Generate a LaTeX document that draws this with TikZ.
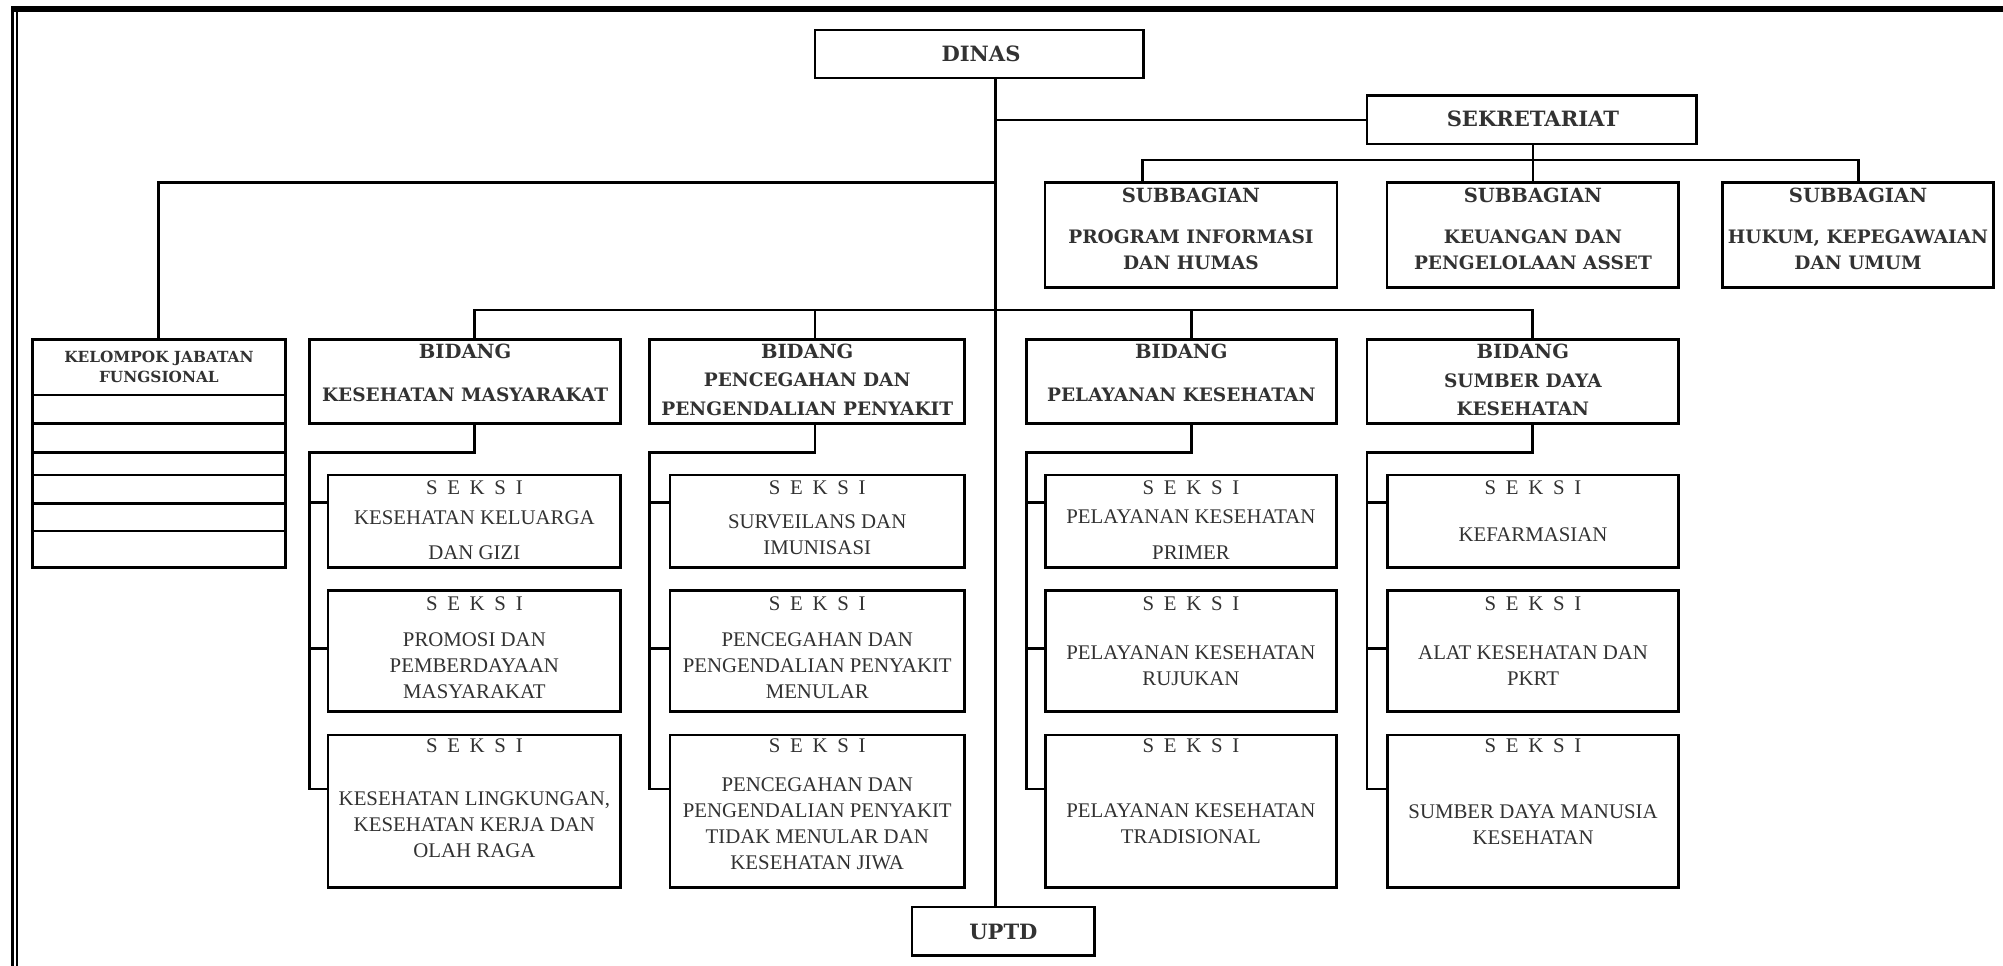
\documentclass[tikz,border=0pt]{standalone}
\usepackage{fontspec}
\setmainfont{Liberation Serif}
\newfontfamily\hdrfont{DejaVu Serif}
\definecolor{txt}{RGB}{50,50,50}
\tikzset{
 box/.style={draw=black, line width=2.1pt, inner sep=0pt, outer sep=0pt},
 conn/.style={draw=black, line width=2.1pt},
 hd/.style={text=txt, inner sep=0pt, align=center, font=\hdrfont\bfseries\fontsize{14.5}{22.2}\selectfont},
 bighd/.style={hd, font=\hdrfont\bfseries\fontsize{16.5}{20}\selectfont},
 titlehd/.style={hd, font=\hdrfont\bfseries\fontsize{15.3}{20}\selectfont},
 subhd/.style={hd, font=\hdrfont\bfseries\fontsize{14.5}{20.3}\selectfont},
 kl/.style={hd, font=\hdrfont\bfseries\fontsize{12}{16.2}\selectfont},
 sk/.style={text=txt, inner sep=0pt, align=center, font=\fontsize{16.3}{20.3}\selectfont},
}
\newcommand\mkbox[5]{\node[box, minimum width={#4-#2}, minimum height={#5-#3}] (#1) at ({(#2+#4)/2},{(#3+#5)/2}) {};}
\begin{document}
\begin{tikzpicture}[x=1pt,y=-1pt]
\useasboundingbox (0,0) rectangle (1568,756);
% frame
\fill[black] (8.7,4.7) rectangle (1568,9.4);
\fill[black] (8.7,4.7) rectangle (10.8,756);
\fill[black] (12.6,9.4) rectangle (14,756);
% boxes
\mkbox{dinas}{638}{23.5}{895}{61}
\mkbox{sek}{1070}{75}{1328}{112.7}
\mkbox{sub1}{818}{142.7}{1046.7}{225}
\mkbox{sub2}{1085.7}{142.7}{1314.2}{225}
\mkbox{sub3}{1348.6}{142.7}{1560.4}{225}
\mkbox{kel}{25.4}{265.6}{223.4}{444.4}
\mkbox{bid1}{242.2}{265.6}{486}{331.4}
\mkbox{bid2}{508.7}{265.6}{755.1}{331.4}
\mkbox{bid3}{803.3}{265.6}{1046.2}{331.4}
\mkbox{bid4}{1070.2}{265.6}{1314}{331.4}
\mkbox{uptd}{714}{710}{857}{748}
\foreach \c/\xa/\xb in {1/256.7/486, 2/524.4/755.1, 3/818.4/1046.2, 4/1086.2/1314}
 \foreach \r/\ya/\yb/\yt in {1/371.9/444.4/381.8, 2/462.4/557.1/472.8, 3/575.4/694.9/584}
 {\mkbox{s\c\r}{\xa}{\ya}{\xb}{\yb}
  \node[sk] (s\c\r t) at ({(\xa+\xb)/2},\yt) {\spaceskip=7.6pt S E K S I};}
% kelompok rows
\foreach \y in {309.2,331.4,354.1,371.9,394,415.7}
 {\coordinate (kr) at (0,\y); \draw[conn] (kel.west |- kr) -- (kel.east |- kr);}
% coordinates
\coordinate (tk) at (779.5,0);
\coordinate (sekbar) at (0,125.3);
\coordinate (sd1) at (894.3,0);
\coordinate (sd2) at (1200,0);
\coordinate (sd3) at (1454.8,0);
\coordinate (kj) at (0,142.7);
\coordinate (kx) at (124.2,0);
\coordinate (bb) at (0,242.7);
\coordinate (dr1) at (371.3,0);
\coordinate (dr2) at (638,0);
\coordinate (dr3) at (932.6,0);
\coordinate (dr4) at (1199.7,0);
\coordinate (bky) at (0,354.1);
\coordinate (st1) at (0,393.5);
\coordinate (st2) at (0,507.5);
\coordinate (st3) at (0,617.7);
% connectors
\draw[conn] (tk |- dinas.south) -- (tk |- uptd.north);
\draw[conn] (tk |- sek.west) -- (sek.west);
\draw[conn] (sd1 |- sub1.north) -- (sd1 |- sekbar) -- (sd3 |- sekbar) -- (sd3 |- sub3.north);
\draw[conn] (sd2 |- sek.south) -- (sd2 |- sub2.north);
\draw[conn] (tk |- kj) -| (kx |- kel.north);
\draw[conn] (dr1 |- bid1.north) -- (dr1 |- bb) -- (dr4 |- bb) -- (dr4 |- bid4.north);
\draw[conn] (dr2 |- bb) -- (dr2 |- bid2.north);
\draw[conn] (dr3 |- bb) -- (dr3 |- bid3.north);
\foreach \i in {1,2,3,4}{
 \draw[conn] (dr\i |- bid\i.south) -- (dr\i |- bky) -- (bid\i.west |- bky) -- (bid\i.west |- st3) -- (s\i3.west |- st3);
 \draw[conn] (bid\i.west |- st1) -- (s\i1.west |- st1);
 \draw[conn] (bid\i.west |- st2) -- (s\i2.west |- st2);
}
% texts
\node[bighd] (dinast) at (768,42.3) {DINAS};
\node[bighd] (sekt) at (1200,93.2) {SEKRETARIAT};
\node[titlehd] (sub1t) at (932.3,153) {SUBBAGIAN};
\node[titlehd] (sub2t) at (1200,153) {SUBBAGIAN};
\node[titlehd] (sub3t) at (1454.5,153) {SUBBAGIAN};
\node[subhd] (sub1b) at (932.3,195.3) {PROGRAM INFORMASI\\DAN HUMAS};
\node[subhd] (sub2b) at (1200,195.5) {KEUANGAN DAN\\PENGELOLAAN ASSET};
\node[subhd] (sub3b) at (1454.5,195.5) {HUKUM, KEPEGAWAIAN\\DAN UMUM};
\node[kl] (kelt) at (124.4,287.3) {KELOMPOK JABATAN\\FUNGSIONAL};
\node[titlehd] (bid1t) at (364.1,275.3) {BIDANG};
\node[titlehd] (bid2t) at (631.9,275.3) {BIDANG};
\node[titlehd] (bid3t) at (924.75,275.3) {BIDANG};
\node[titlehd] (bid4t) at (1192.1,275.3) {BIDANG};
\node[hd] (bid1b) at (364.1,309.2) {KESEHATAN MASYARAKAT};
\node[hd] (bid2b) at (631.9,308.6) {PENCEGAHAN DAN\\PENGENDALIAN PENYAKIT};
\node[hd] (bid3b) at (924.75,309.2) {PELAYANAN KESEHATAN};
\node[hd] (bid4b) at (1192.1,308.9) {SUMBER DAYA\\KESEHATAN};
\node[bighd] (uptdt) at (785.5,729.4) {UPTD};
\node[sk] (s11b) at (371.35,418.7) {KESEHATAN KELUARGA\\[7.1pt]DAN GIZI};
\node[sk] (s12b) at (371.35,521.1) {PROMOSI DAN\\PEMBERDAYAAN\\MASYARAKAT};
\node[sk] (s13b) at (371.35,645.5) {KESEHATAN LINGKUNGAN,\\KESEHATAN KERJA DAN\\OLAH RAGA};
\node[sk] (s21b) at (639.75,418.8) {SURVEILANS DAN\\IMUNISASI};
\node[sk] (s22b) at (639.75,521) {PENCEGAHAN DAN\\PENGENDALIAN PENYAKIT\\MENULAR};
\node[sk] (s23b) at (639.75,644.9) {PENCEGAHAN DAN\\PENGENDALIAN PENYAKIT\\TIDAK MENULAR DAN\\KESEHATAN JIWA};
\node[sk] (s31b) at (932.3,418.45) {PELAYANAN KESEHATAN\\[7.6pt]PRIMER};
\node[sk] (s32b) at (932.3,520.85) {PELAYANAN KESEHATAN\\RUJUKAN};
\node[sk] (s33b) at (932.3,644.95) {PELAYANAN KESEHATAN\\TRADISIONAL};
\node[sk] (s41b) at (1200.1,418.8) {KEFARMASIAN};
\node[sk] (s42b) at (1200.1,520.85) {ALAT KESEHATAN DAN\\PKRT};
\node[sk] (s43b) at (1200.1,645.45) {SUMBER DAYA MANUSIA\\KESEHATAN};
\end{tikzpicture}
\end{document}
